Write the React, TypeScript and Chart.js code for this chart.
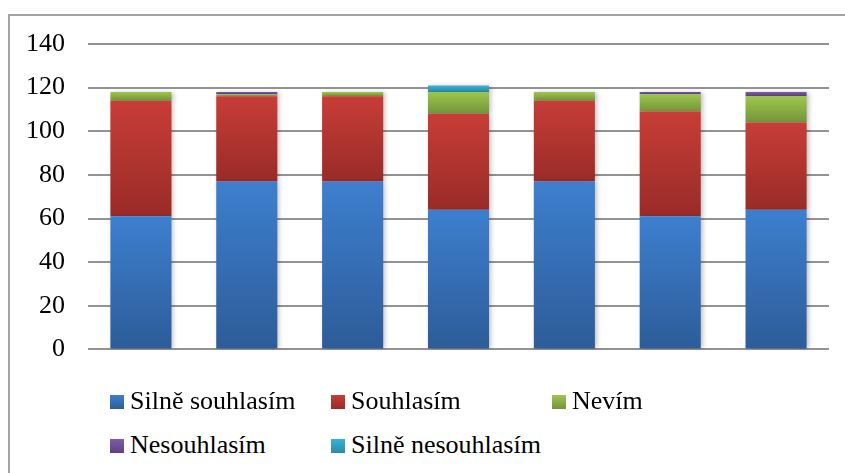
import React, { useEffect, useRef } from "react";
import { Chart, registerables } from "chart.js";

Chart.register(...registerables);

const categories = ["1", "2", "3", "4", "5", "6", "7"];
const seriesNames = ["Silně souhlasím", "Souhlasím", "Nevím", "Nesouhlasím", "Silně nesouhlasím"];
const silneSouhlasim = [61, 77, 77, 64, 77, 61, 64];
const souhlasim = [53, 39, 39, 44, 37, 48, 40];
const nevim = [4, 1, 2, 10, 4, 8, 12];
const nesouhlasim = [0, 1, 0, 0, 0, 1, 2];
const silneNesouhlasim = [0, 0, 0, 3, 0, 0, 0];
const yTicks = [0, 20, 40, 60, 80, 100, 120, 140];

const seriesValues = [silneSouhlasim, souhlasim, nevim, nesouhlasim, silneNesouhlasim];
const colorsTop = ["#3d7fcf", "#c83d37", "#9dc64c", "#7e5ba9", "#38b2d6"];
const colorsBottom = ["#2d5c98", "#992b28", "#74943a", "#5e4283", "#2a8aa8"];

const FONT = "'Liberation Serif', 'Times New Roman', serif";

const shadowPlugin = {
  id: "barShadow",
  beforeDatasetsDraw(chart: any) {
    const ctx = chart.ctx;
    ctx.save();
    ctx.shadowColor = "rgba(0,0,0,0.28)";
    ctx.shadowBlur = 5;
    ctx.shadowOffsetX = 2;
    ctx.shadowOffsetY = 1;
  },
  afterDatasetsDraw(chart: any) {
    chart.ctx.restore();
  },
};

export default function App() {
  const ref = useRef<HTMLCanvasElement>(null);
  useEffect(() => {
    if (!ref.current) return;
    const datasets = seriesNames.map((name, si) => ({
      label: name,
      data: seriesValues[si],
      backgroundColor: (c: any) => {
        const chart = c.chart;
        const y = chart.scales?.y;
        if (!y || c.dataIndex === undefined) return colorsTop[si];
        let start = 0;
        for (let k = 0; k < si; k++) start += seriesValues[k][c.dataIndex];
        const end = start + seriesValues[si][c.dataIndex];
        const top = y.getPixelForValue(end);
        const bot = y.getPixelForValue(start);
        if (!isFinite(top) || !isFinite(bot) || top === bot) return colorsTop[si];
        const g = chart.ctx.createLinearGradient(0, top, 0, bot);
        g.addColorStop(0, colorsTop[si]);
        g.addColorStop(1, colorsBottom[si]);
        return g;
      },
      borderWidth: 0,
      barPercentage: 0.577,
      categoryPercentage: 1,
    }));
    const chart = new Chart(ref.current, {
      type: "bar",
      data: { labels: categories, datasets },
      plugins: [shadowPlugin],
      options: {
        animation: false,
        responsive: true,
        maintainAspectRatio: false,
        layout: { padding: { left: 8, right: 16, top: 44, bottom: 0 } },
        plugins: { legend: { display: false }, tooltip: { enabled: false } },
        scales: {
          x: { stacked: true, display: false, grid: { display: false } },
          y: {
            stacked: true,
            min: 0,
            max: 140,
            afterBuildTicks: (s: any) => {
              s.ticks = yTicks.map((v) => ({ value: v }));
            },
            afterFit: (s: any) => {
              s.width = 80;
            },
            border: { display: false },
            grid: { color: "#939393", lineWidth: 2, drawTicks: false },
            ticks: {
              padding: 23,
              color: "#000",
              font: { family: FONT, size: 26 },
            },
          },
        },
      },
    });
    return () => chart.destroy();
  }, []);

  const legendItems = [
    { i: 0, x: 110, row: 0 },
    { i: 1, x: 331, row: 0 },
    { i: 2, x: 552, row: 0 },
    { i: 3, x: 110, row: 1 },
    { i: 4, x: 331, row: 1 },
  ];
  const rowBaseline = [410, 454];

  return (
    <div style={{ position: "fixed", left: 0, top: 0, width: 845, height: 473, background: "#fff", overflow: "hidden" }}>
      <div style={{ position: "absolute", left: 8, top: 14, width: 2, height: 473, background: "#a3a3a3" }} />
      <div style={{ position: "absolute", left: 8, top: 14, width: 837, height: 2, background: "#a3a3a3" }} />
      <div style={{ position: "absolute", left: 0, top: 0, width: 845, height: 388 }}>
        <canvas ref={ref} />
      </div>
      {legendItems.map((it) => (
        <React.Fragment key={it.i}>
          <div
            style={{
              position: "absolute",
              left: it.x,
              top: rowBaseline[it.row] - 15,
              width: 14,
              height: 14,
              background: `linear-gradient(${colorsTop[it.i]}, ${colorsBottom[it.i]})`,
            }}
          />
          <span
            style={{
              position: "absolute",
              left: it.x + 20,
              top: rowBaseline[it.row] - 22,
              fontFamily: FONT,
              fontSize: 26,
              lineHeight: "26px",
              color: "#000",
              whiteSpace: "nowrap",
            }}
          >
            {seriesNames[it.i]}
          </span>
        </React.Fragment>
      ))}
    </div>
  );
}
